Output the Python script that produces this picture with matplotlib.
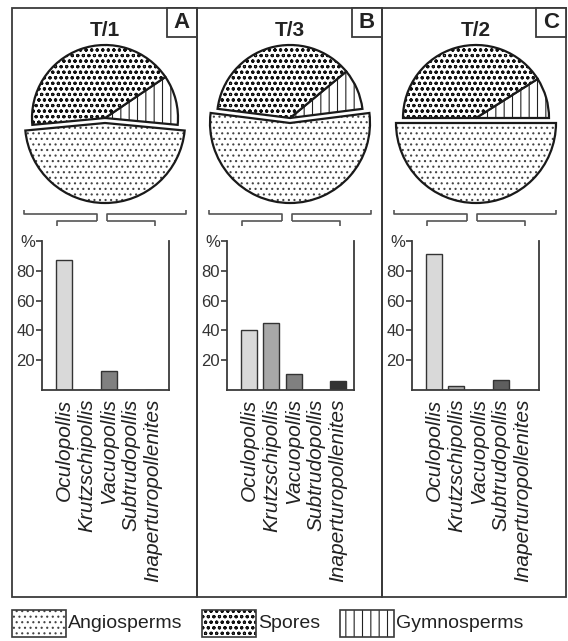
import matplotlib
matplotlib.use('Agg')
import matplotlib.pyplot as plt
from matplotlib.patches import Wedge, Rectangle

plt.rcParams['font.family'] = ['Liberation Sans', 'DejaVu Sans']
plt.rcParams['hatch.linewidth'] = 0.8

# sample order as in the figure
samples = ['T/1', 'T/3', 'T/2']
letters = ['A', 'B', 'C']

# pie shares (%)
angio = [47, 54, 50]
spores = [42, 37, 41]
gymno = [11, 9, 9]

# pollen taxa (%)
taxa = ['Oculopollis', 'Krutzschipollis', 'Vacuopollis', 'Subtrudopollis', 'Inaperturopollenites']
bars_t1 = [87, 0, 13, 0, 0]
bars_t3 = [40, 45, 11, 0, 6]
bars_t2 = [91, 3, 0, 7, 0]
bar_sets = [bars_t1, bars_t3, bars_t2]
taxa_colors = ['#d9d9d9', '#a8a8a8', '#808080', '#5e5e5e', '#333333']

W, H = 568, 641
LINE = '#3a3a3a'

fig = plt.figure(figsize=(W / 100, H / 100), dpi=100)
ov = fig.add_axes([0, 0, 1, 1])
ov.set_xlim(0, W)
ov.set_ylim(H, 0)
ov.axis('off')


def wedge(cx, cy, r, a1, a2, **kw):
    # angles counter-clockwise as seen on screen (y axis is flipped)
    return Wedge((cx, cy), r, -a2, -a1, **kw)


def hatched_wedge(cx, cy, r, a1, a2, hatch, hcolor):
    ov.add_patch(wedge(cx, cy, r, a1, a2, facecolor='white', edgecolor=hcolor,
                       hatch=hatch, linewidth=0))
    ov.add_patch(wedge(cx, cy, r, a1, a2, fill=False, edgecolor='#1a1a1a',
                       linewidth=1.6))


panel_x = [12, 197, 382]
panel_w = [185, 185, 184]
pie_cx = [105, 290, 476]

for i in range(3):
    px = panel_x[i]
    # panel frame and letter box
    ov.add_patch(Rectangle((px, 8), panel_w[i], 589, fill=False, edgecolor=LINE, linewidth=1.3))
    ov.add_patch(Rectangle((px + panel_w[i] - 30, 8), 30, 29, facecolor='white',
                           edgecolor=LINE, linewidth=1.3))
    ov.text(px + panel_w[i] - 15, 23, letters[i], ha='center', va='center',
            fontsize=16, fontweight='bold', color='#222')
    ov.text(pie_cx[i], 30, samples[i], ha='center', va='center',
            fontsize=15, fontweight='bold', color='#222')

    # pie: angiosperms pulled out downward
    cx, cy = pie_cx[i], 118
    span = angio[i] * 3.6
    a1 = 270 - span / 2
    a2 = 270 + span / 2
    g2 = a2 + gymno[i] * 3.6
    hatched_wedge(cx, cy, 73, a2, g2, '||', '#222')
    hatched_wedge(cx, cy, 73, g2, a1 + 360, 'ooo', '#111')
    hatched_wedge(cx, cy + 5, 80, a1, a2, '...', '#444')

    # brackets
    bk = dict(color='#555', linewidth=1.2, solid_capstyle='butt')
    ov.plot([px + 12, px + 12, px + 85, px + 85], [210, 214, 214, 221], **bk)
    ov.plot([px + 174, px + 174, px + 95, px + 95], [210, 214, 214, 221], **bk)
    ov.plot([px + 45, px + 45, px + 85], [226, 221, 221], **bk)
    ov.plot([px + 143, px + 143, px + 95], [226, 221, 221], **bk)

    # bar chart
    left = px + 30
    ax = fig.add_axes([left / W, (H - 390) / H, 126.5 / W, 149 / H])
    ax.bar(range(len(taxa)), bar_sets[i], width=0.72, color=taxa_colors,
           edgecolor='#333', linewidth=1.0)
    ax.set_xlim(-1, 4.7)
    ax.set_ylim(0, 100)
    ax.spines['top'].set_visible(False)
    for s in ['left', 'bottom', 'right']:
        ax.spines[s].set_color(LINE)
        ax.spines[s].set_linewidth(1.3)
    ax.set_facecolor('none')
    ax.set_yticks([20, 40, 60, 80, 100])
    ax.set_yticklabels(['20', '40', '60', '80', '%'])
    ax.tick_params(axis='y', direction='out', length=4, width=1.2, colors=LINE,
                   labelsize=12, pad=1, labelcolor='#333')
    ax.set_xticks(range(len(taxa)))
    ax.set_xticklabels(taxa, rotation=90, fontstyle='italic', fontsize=15,
                       va='top', ha='center', color='#222')
    ax.tick_params(axis='x', length=0, pad=6)

# legend
legend_items = [('Angiosperms', '...', '#444', 12), ('Spores', 'ooo', '#111', 202),
                ('Gymnosperms', '||', '#222', 340)]
for name, hatch, hc, x in legend_items:
    ov.add_patch(Rectangle((x, 610), 54, 27, facecolor='white', edgecolor=hc,
                           hatch=hatch, linewidth=0))
    ov.add_patch(Rectangle((x, 610), 54, 27, fill=False, edgecolor=LINE, linewidth=1.2))
    ov.text(x + 56, 624, name, ha='left', va='center', fontsize=14, color='#222')

fig.savefig('out.png', dpi=100)
